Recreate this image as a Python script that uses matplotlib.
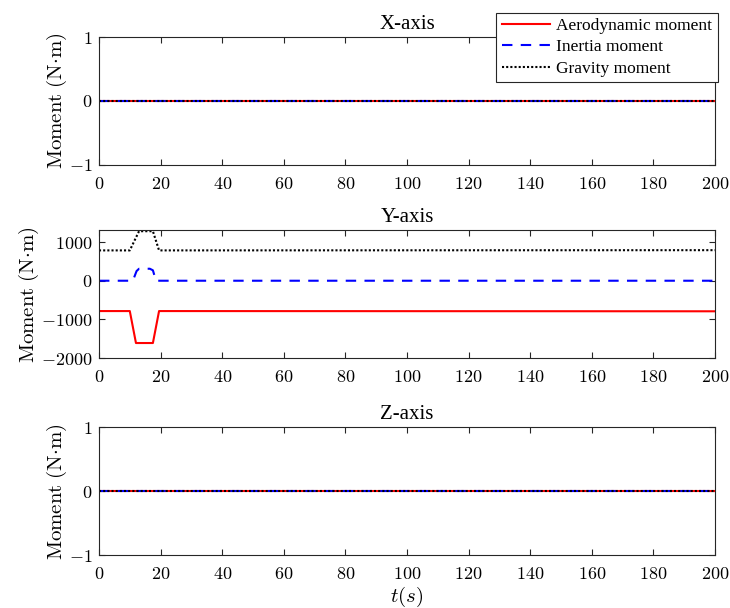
import matplotlib

matplotlib.use("Agg")
import matplotlib.pyplot as plt
from matplotlib.ticker import FuncFormatter, MultipleLocator

plt.rcParams["font.family"] = ["Liberation Serif", "DejaVu Serif"]
plt.rcParams["mathtext.fontset"] = "cm"

# time span and zero traces for the X / Z components
T_SPAN = [0, 200]
ZERO = [0, 0]

# Y component: breakpoints of the moment histories (N·m)
t_aero = [0, 10, 12, 17.5, 19.5, 200]
m_aero = [-784, -784, -1610, -1610, -784, -790]
t_inertia = [0, 11, 12.2, 13, 16.5, 17.5, 18.5, 200]
m_inertia = [0, 0, 250, 310, 310, 270, 0, 0]
t_gravity = [0, 10, 13, 17.5, 19.5, 200]
m_gravity = [784, 784, 1280, 1280, 784, 790]

titles = ["X-axis", "Y-axis", "Z-axis"]
legend_labels = ["Aerodynamic moment", "Inertia moment", "Gravity moment"]

AX_GRAY = "#262626"
fmt = FuncFormatter(lambda v, p: f"${v:g}$")

fig = plt.figure(figsize=(7.3, 6.08), dpi=100)
left, width, height = 0.1356, 0.844, 0.210
bottoms = [0.729, 0.411, 0.087]
axes = [fig.add_axes([left, b, width, height]) for b in bottoms]

for i, ax in enumerate(axes):
    if i == 1:
        l1, = ax.plot(t_aero, m_aero, color="red", lw=1.5)
        l2, = ax.plot(t_inertia, m_inertia, color="blue", lw=1.5, ls=(0, (5, 4)))
        l3, = ax.plot(t_gravity, m_gravity, color="black", lw=1.5, ls=(0, (1, 1)))
        ax.set_ylim(-2000, 1300)
        ax.yaxis.set_major_locator(MultipleLocator(1000))
    else:
        l1, = ax.plot(T_SPAN, ZERO, color="red", lw=1.5)
        l2, = ax.plot(T_SPAN, ZERO, color="blue", lw=1.5, ls=(0, (5, 4)))
        l3, = ax.plot(T_SPAN, ZERO, color="black", lw=1.5, ls=(0, (1, 1)))
        ax.set_ylim(-1, 1)
        ax.yaxis.set_major_locator(MultipleLocator(1))
        if i == 0:
            handles = [l1, l2, l3]
    ax.set_xlim(0, 200)
    ax.xaxis.set_major_locator(MultipleLocator(20))
    ax.xaxis.set_major_formatter(fmt)
    ax.yaxis.set_major_formatter(fmt)
    ax.tick_params(direction="in", top=True, right=True, length=4, width=0.8,
                   color=AX_GRAY, labelsize=13, pad=5)
    ax.tick_params(axis="x", pad=8)
    for s in ax.spines.values():
        s.set_color(AX_GRAY)
        s.set_linewidth(0.8)
    ax.set_title(titles[i], fontsize=15, pad=6)
    ax.set_ylabel(r"$\mathrm{Moment\ (N{\cdot}m)}$", fontsize=15, labelpad=0)

axes[2].set_xlabel(r"$t(s)$", fontsize=15, labelpad=1)

leg = fig.legend(handles, legend_labels, loc="upper right",
                 bbox_to_anchor=(0.983, 0.979), fontsize=12.5, frameon=True,
                 fancybox=False, edgecolor=AX_GRAY, framealpha=1,
                 handlelength=2.8, handletextpad=0.35, borderpad=0.3,
                 labelspacing=0.3, borderaxespad=0)
leg.get_frame().set_linewidth(0.8)

fig.savefig("out.png", dpi=100)
